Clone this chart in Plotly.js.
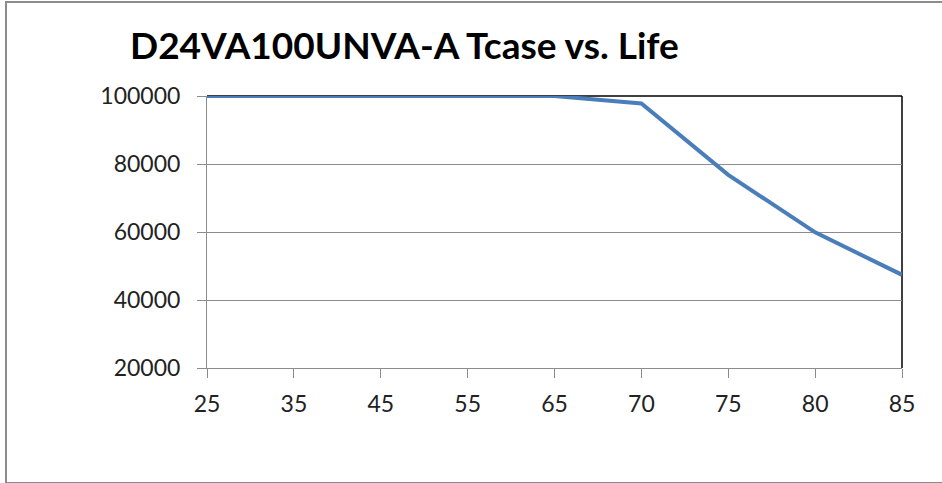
<!DOCTYPE html>
<html>
<head>
<meta charset="utf-8">
<script src="https://cdn.plot.ly/plotly-3.0.1.min.js"></script>
<style>
  html, body { margin: 0; padding: 0; background: #ffffff; }
  #wrap { position: relative; width: 942px; height: 483px; overflow: hidden; }
  #frame { position: absolute; left: 5px; top: 1px; width: 950px; height: 479px; border-left: 2px solid #8c8c8c; border-top: 2px solid #8c8c8c; border-bottom: 2px solid #8c8c8c; pointer-events: none; z-index: 5; }
  #chart { position: absolute; left: 0; top: 0; width: 942px; height: 483px; }
</style>
</head>
<body>
<div id="wrap">
  <div id="chart"></div>
  <div id="frame"></div>
</div>
<script>
const tcase = ["25", "35", "45", "55", "65", "70", "75", "80", "85"];
const life = [100000, 100000, 100000, 100000, 100000, 97800, 76800, 59900, 47400];
const yTicks = [20000, 40000, 60000, 80000, 100000];
const chartTitle = "D24VA100UNVA-A Tcase vs. Life";

const fontFam = 'Lato, "Open Sans", "Liberation Sans", sans-serif';

const trace = {
  x: tcase,
  y: life,
  type: 'scatter',
  mode: 'lines',
  line: { color: '#4a7ebb', width: 4 },
  cliponaxis: false,
  hoverinfo: 'skip'
};

const layout = {
  width: 942,
  height: 483,
  margin: { l: 207, r: 40, t: 96, b: 115 },
  paper_bgcolor: '#ffffff',
  plot_bgcolor: '#ffffff',
  showlegend: false,
  title: {
    text: chartTitle,
    font: { family: fontFam, size: 37, weight: 'bold', color: '#000000' },
    xref: 'container', yref: 'container',
    x: 130 / 942, xanchor: 'left',
    y: 1 - 46 / 483, yanchor: 'middle'
  },
  xaxis: {
    type: 'category',
    range: [0, tcase.length - 1],
    showgrid: false,
    showline: true,
    linecolor: '#8c8c8c',
    linewidth: 1,
    ticks: 'outside',
    ticklen: 9,
    tickcolor: '#8c8c8c',
    tickfont: { family: fontFam, size: 23, color: '#222222' },
    ticklabelstandoff: 6,
    fixedrange: true,
    zeroline: false
  },
  yaxis: {
    range: [20000, 100000],
    tickmode: 'array',
    tickvals: yTicks,
    ticktext: yTicks.map(String),
    showgrid: true,
    gridcolor: '#8c8c8c',
    gridwidth: 1,
    showline: true,
    linecolor: '#8c8c8c',
    linewidth: 1,
    ticks: 'outside',
    ticklen: 9,
    tickcolor: '#8c8c8c',
    tickfont: { family: fontFam, size: 23, color: '#222222' },
    ticklabelstandoff: 12,
    zeroline: false,
    fixedrange: true
  },
  shapes: [
    { type: 'line', xref: 'paper', yref: 'paper', x0: 0, x1: 1, y0: 1, y1: 1, line: { color: '#000000', width: 1.5 }, layer: 'below' },
    { type: 'line', xref: 'paper', yref: 'paper', x0: 1, x1: 1, y0: 0, y1: 1, line: { color: '#000000', width: 1.5 }, layer: 'below' }
  ]
};

Plotly.newPlot('chart', [trace], layout, { staticPlot: true, displayModeBar: false });
</script>
</body>
</html>
